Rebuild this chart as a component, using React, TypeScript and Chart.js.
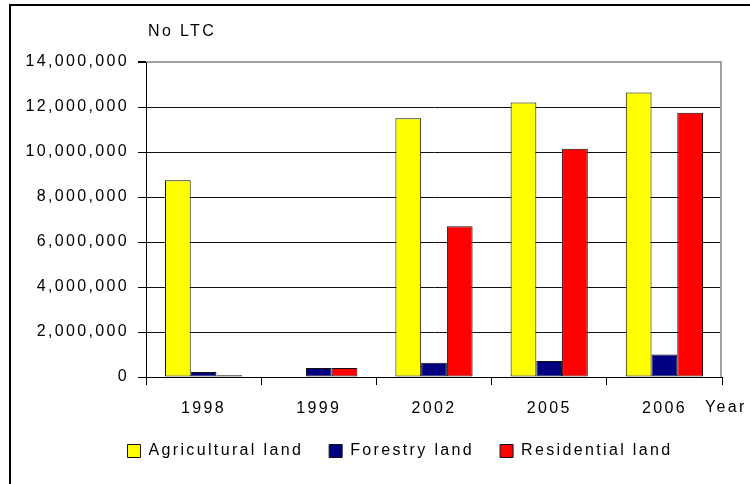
import React, { useEffect, useRef } from "react";
import { Chart, registerables } from "chart.js";

Chart.register(...registerables);

const categories = ["1998", "1999", "2002", "2005", "2006"];
const agricultural = [8750000, 0, 11500000, 12200000, 12650000];
const forestry = [220000, 400000, 630000, 715000, 1000000];
const residential = [80000, 400000, 6700000, 10150000, 11750000];
const seriesLabels = ["Agricultural land", "Forestry land", "Residential land"];
const yAxisTitle = "No LTC";
const xAxisTitle = "Year";

const FONT = "'Liberation Sans', Arial, sans-serif";
const SPACING = "2.35px";

const framePlugin = {
  id: "frame",
  beforeUpdate(chart: any) {
    chart.ctx.letterSpacing = SPACING;
  },
  afterLayout(chart: any) {
    if (chart.legend) {
      chart.legend.left += 39;
      chart.legend.right += 39;
    }
  },
  beforeDraw(chart: any) {
    const ctx = chart.ctx;
    ctx.letterSpacing = SPACING;
    ctx.save();
    ctx.fillStyle = "#ffffff";
    ctx.fillRect(0, 0, chart.width, chart.height);
    ctx.fillStyle = "#000000";
    ctx.fillRect(9, 4, chart.width - 9, 2);
    ctx.fillRect(9, 4, 2, chart.height - 4);
    ctx.restore();
  },
  afterDraw(chart: any) {
    const ctx = chart.ctx;
    const a = chart.chartArea;
    ctx.save();
    ctx.strokeStyle = "#a0a0a0";
    ctx.lineWidth = 2;
    ctx.beginPath();
    ctx.moveTo(a.right - 1, a.top);
    ctx.lineTo(a.right - 1, a.bottom);
    ctx.stroke();
    ctx.letterSpacing = SPACING;
    ctx.fillStyle = "#000000";
    ctx.font = `16px ${FONT}`;
    ctx.textBaseline = "middle";
    ctx.textAlign = "left";
    ctx.fillText(yAxisTitle, a.left + 2, 32);
    ctx.fillText(xAxisTitle, a.right - 17, a.bottom + 31);
    ctx.restore();
  },
};

export default function App() {
  const ref = useRef<HTMLCanvasElement | null>(null);
  useEffect(() => {
    if (!ref.current) return;
    const colors = ["#ffff00", "#000080", "#ff0000"];
    const data = [agricultural, forestry, residential];
    const chart = new Chart(ref.current, {
      type: "bar",
      data: {
        labels: categories,
        datasets: seriesLabels.map((label, i) => ({
          label,
          data: data[i],
          backgroundColor: colors[i],
          borderColor: "#111111",
          borderWidth: 1,
          borderSkipped: false,
          categoryPercentage: 0.67,
          barPercentage: 1.0,
        })),
      },
      options: {
        responsive: false,
        animation: false,
        devicePixelRatio: 1,
        layout: { padding: { left: 0, right: 28, top: 62, bottom: 15 } },
        plugins: {
          title: { display: false },
          tooltip: { enabled: false },
          legend: {
            position: "bottom",
            labels: {
              color: "#000",
              font: { family: FONT, size: 16 },
              boxWidth: 13,
              boxHeight: 13,
              padding: 26,
            },
          },
        },
        scales: {
          x: {
            grid: {
              display: true,
              drawOnChartArea: false,
              offset: true,
              tickLength: 8,
              tickColor: "#000",
            },
            border: { color: "#000", width: 1 },
            ticks: { color: "#000", font: { family: FONT, size: 16 }, padding: 14, maxRotation: 0 },
            afterFit(scale: any) {
              scale.height = 40;
            },
          },
          y: {
            min: 0,
            max: 14000000,
            grid: {
              color: (c: any) => (c.tick && c.tick.value === 14000000 ? "#a0a0a0" : "#111111"),
              lineWidth: (c: any) => (c.tick && c.tick.value === 14000000 ? 2 : 1),
              tickLength: 8,
              tickColor: "#000",
            },
            border: { color: "#000", width: 1 },
            ticks: {
              stepSize: 2000000,
              color: "#000",
              font: { family: FONT, size: 16 },
              padding: 9,
              callback: (v: any) => Number(v).toLocaleString("en-US"),
            },
            afterFit(scale: any) {
              scale.width = 146;
            },
          },
        },
      },
      plugins: [framePlugin],
    } as any);
    return () => chart.destroy();
  }, []);
  return (
    <div style={{ position: "fixed", left: 0, top: 0, width: 750, height: 484 }}>
      <canvas ref={ref} width={750} height={484} />
    </div>
  );
}
